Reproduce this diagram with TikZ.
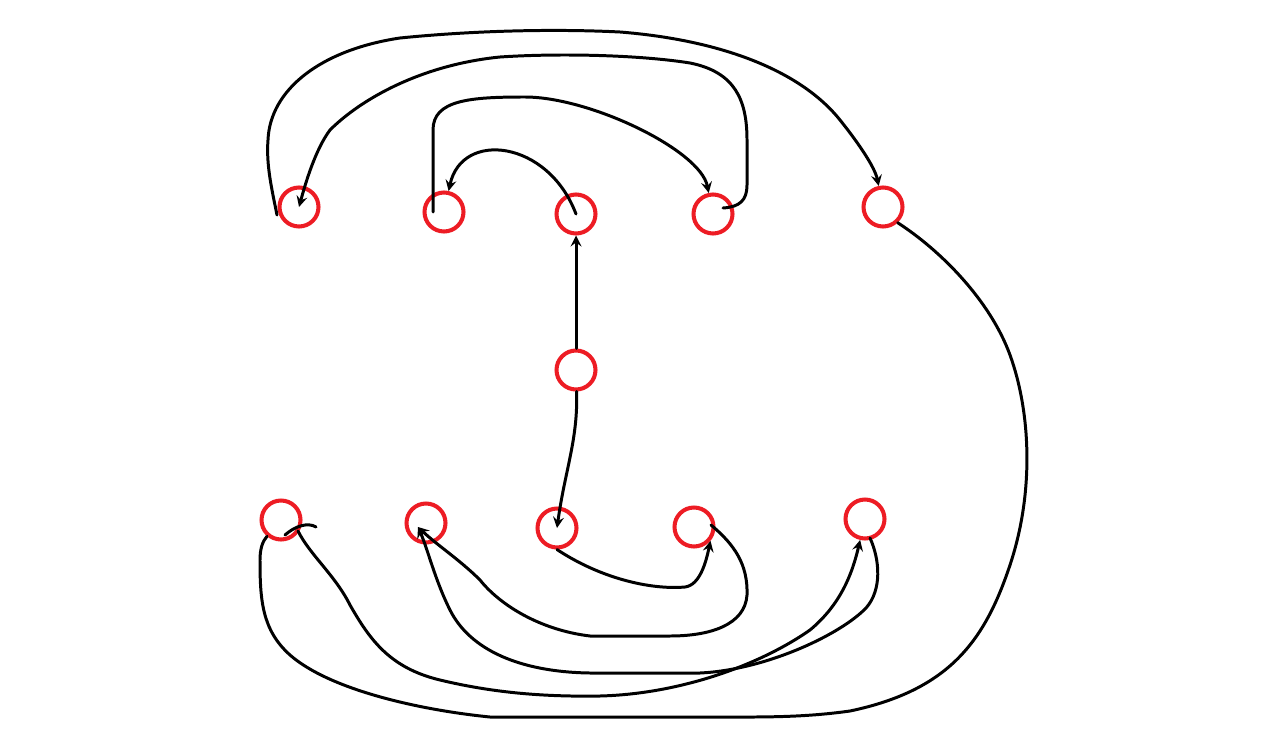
\documentclass[tikz,border=0pt]{standalone}
\usepackage{tikz}
\usepackage{color}
\definecolor{paintred}{RGB}{237,28,36}

\begin{document}
\begin{tikzpicture}[x=0.02cm,y=-0.02cm,line width=1.7pt,
	spot/.style={draw=paintred,circle,line width=2.3pt,minimum size=0.78cm,inner sep=0pt},
	link/.style={->,>=stealth,line cap=round,line join=round}]
			\useasboundingbox (0,0) rectangle (1280,733);
			\node[spot] (T1)at(299,207) {};
			\node[spot] (T2)at(444,212) {};
			\node[spot] (T3)at(576,214) {};
			\node[spot] (T4)at(713,214) {};
			\node[spot] (T5)at(883,207) {};
			\node[spot] (M)at(576,370) {};
			\node[spot] (B1)at(281,520) {};
			\node[spot] (B2)at(426,523) {};
			\node[spot] (B3)at(557,528) {};
			\node[spot] (B4)at(694,527) {};
			\node[spot] (B5)at(865,519) {};
			\coordinate (B2in) at ([shift={(-8,4)}]B2.center);
			\draw[link] (M) -- (T3);
			\draw[link] (M) .. controls (578,440) and (565,470) .. (B3.center);
			\draw[link] (T3.center) .. controls (548,140) and (462,130) .. (T2);
			\draw[link] (T2.center) ++(-11,0) -- ++(0,-82) .. controls (433,100) and (470,97) .. (525,97) .. controls (590,97) and (700,150) .. (T4);
			\draw[link] (T4.center) ++(10,-6) .. controls (740,207) and (747,200) .. (747,185) -- (747,140) .. controls (747,100) and (735,72) .. (690,63) .. controls (640,55) and (560,53) .. (500,57) .. controls (420,65) and (360,100) .. (330,130) .. controls (315,150) and (305,185) .. (T1.center);
			\draw[link] (T1.center) ++(-22,8) .. controls (272,190) and (266,165) .. (268,140) .. controls (270,90) and (320,50) .. (400,38) .. controls (480,30) and (560,29) .. (620,32) .. controls (720,40) and (800,70) .. (840,120) .. controls (860,145) and (875,168) .. (T5);
			\draw[line cap=round] (T5.-47) .. controls (940,250) and (990,300) .. (1010,355) .. controls (1030,410) and (1035,490) .. (1010,565) .. controls (985,640) and (950,690) .. (850,711) .. controls (800,718) and (760,717) .. (700,717) -- (490,717) .. controls (420,710) and (330,690) .. (290,655) .. controls (262,630) and (260,600) .. (260,560) .. controls (260,550) and (262,542) .. (B1);
			\draw[link] (B1.center) ++(4,15) .. controls (295,526) and (308,522) .. (316,527) (298,531) .. controls (310,555) and (335,575) .. (350,605) .. controls (370,640) and (390,668) .. (440,680) .. controls (490,692) and (540,697) .. (600,696) .. controls (680,694) and (760,665) .. (810,630) .. controls (840,605) and (852,575) .. (B5);
			\draw[link] (B5.center) ++(5,19) .. controls (880,560) and (882,590) .. (866,608) .. controls (840,635) and (765,670) .. (700,673) -- (590,673) .. controls (520,672) and (470,650) .. (450,610) .. controls (435,580) and (428,550) .. (B2in);
			\draw[link] (B4.center) ++(17,-2) .. controls (735,545) and (748,565) .. (747,595) .. controls (745,625) and (710,636) .. (670,636) -- (590,636) .. controls (540,630) and (500,605) .. (480,580) .. controls (460,560) and (437,545) .. (B2in);
			\draw[link] (B3.south) .. controls (600,578) and (650,590) .. (685,587) .. controls (700,585) and (706,562) .. (B4.-40);
\end{tikzpicture}
\end{document}
